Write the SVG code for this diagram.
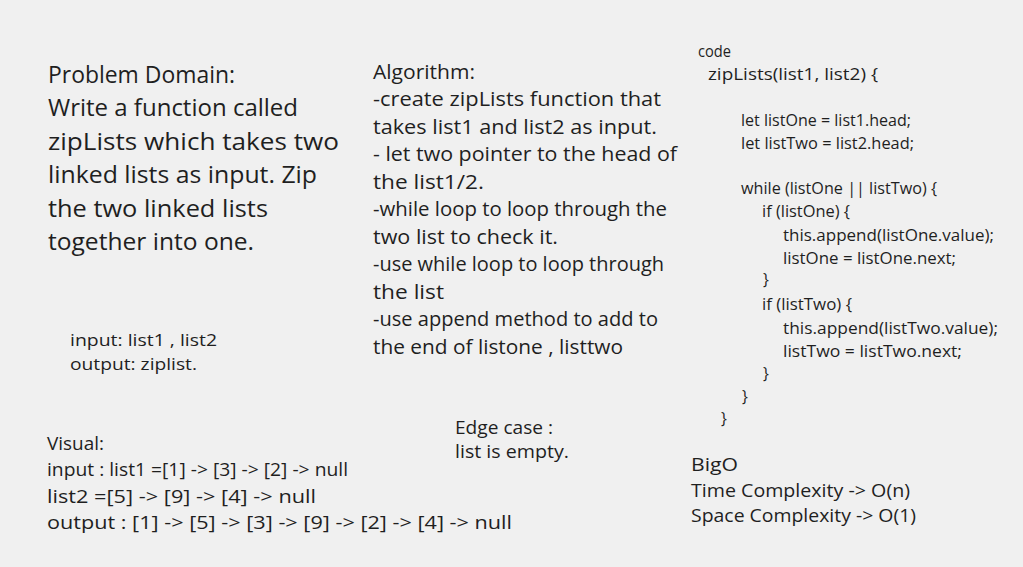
<svg xmlns="http://www.w3.org/2000/svg" width="1023" height="567" viewBox="0 0 1023 567">
<style>
text{font-family:"Open Sans","Liberation Sans",sans-serif;fill:#1f1f1f}
.pd{font-size:23px}
.al{font-size:20px}
.cd{font-size:15.5px}
.io{font-size:17px}
.vs{font-size:18px}
.bo{font-size:18px}
</style>
<rect width="1023" height="567" fill="#f0f0f0"/>
<g id="problem-domain" class="pd">
<text x="48" y="83" textLength="187" lengthAdjust="spacingAndGlyphs">Problem Domain:</text>
<text x="48" y="116" textLength="250" lengthAdjust="spacingAndGlyphs">Write a function called</text>
<text x="48" y="150" textLength="291" lengthAdjust="spacingAndGlyphs">zipLists which takes two</text>
<text x="48" y="183" textLength="269" lengthAdjust="spacingAndGlyphs">linked lists as input. Zip</text>
<text x="48" y="217" textLength="220" lengthAdjust="spacingAndGlyphs">the two linked lists</text>
<text x="48" y="250" textLength="206" lengthAdjust="spacingAndGlyphs">together into one.</text>
</g>
<g id="io" class="io">
<text x="70" y="346" textLength="147" lengthAdjust="spacingAndGlyphs">input: list1 , list2</text>
<text x="70" y="370" textLength="127" lengthAdjust="spacingAndGlyphs">output: ziplist.</text>
</g>
<g id="algorithm" class="al">
<text x="373" y="79" textLength="102" lengthAdjust="spacingAndGlyphs">Algorithm:</text>
<text x="373" y="106" textLength="288" lengthAdjust="spacingAndGlyphs">-create zipLists function that</text>
<text x="373" y="134" textLength="284" lengthAdjust="spacingAndGlyphs">takes list1 and list2 as input.</text>
<text x="373" y="161" textLength="304" lengthAdjust="spacingAndGlyphs">- let two pointer to the head of</text>
<text x="373" y="189" textLength="111" lengthAdjust="spacingAndGlyphs">the list1/2.</text>
<text x="373" y="216" textLength="294" lengthAdjust="spacingAndGlyphs">-while loop to loop through the</text>
<text x="373" y="244" textLength="185" lengthAdjust="spacingAndGlyphs">two list to check it.</text>
<text x="373" y="271" textLength="291" lengthAdjust="spacingAndGlyphs">-use while loop to loop through</text>
<text x="373" y="299" textLength="71" lengthAdjust="spacingAndGlyphs">the list</text>
<text x="373" y="326" textLength="285" lengthAdjust="spacingAndGlyphs">-use append method to add to</text>
<text x="373" y="354" textLength="250" lengthAdjust="spacingAndGlyphs">the end of listone , listtwo</text>
</g>
<g id="code" class="cd">
<text x="698" y="57" textLength="33" lengthAdjust="spacingAndGlyphs">code</text>
<text x="708" y="80" textLength="170" lengthAdjust="spacingAndGlyphs">zipLists(list1, list2) {</text>
<text x="741" y="126" textLength="170" lengthAdjust="spacingAndGlyphs">let listOne = list1.head;</text>
<text x="741" y="149" textLength="173" lengthAdjust="spacingAndGlyphs">let listTwo = list2.head;</text>
<text x="741" y="194" textLength="196" lengthAdjust="spacingAndGlyphs">while (listOne || listTwo) {</text>
<text x="762" y="217" textLength="88" lengthAdjust="spacingAndGlyphs">if (listOne) {</text>
<text x="783" y="241" textLength="211" lengthAdjust="spacingAndGlyphs">this.append(listOne.value);</text>
<text x="783" y="264" textLength="173" lengthAdjust="spacingAndGlyphs">listOne = listOne.next;</text>
<text x="763" y="285">}</text>
<text x="762" y="310" textLength="90" lengthAdjust="spacingAndGlyphs">if (listTwo) {</text>
<text x="783" y="334" textLength="215" lengthAdjust="spacingAndGlyphs">this.append(listTwo.value);</text>
<text x="783" y="357" textLength="179" lengthAdjust="spacingAndGlyphs">listTwo = listTwo.next;</text>
<text x="763" y="379">}</text>
<text x="742" y="402">}</text>
<text x="721" y="424">}</text>
</g>
<g id="visual" class="vs">
<text x="47" y="450" textLength="57" lengthAdjust="spacingAndGlyphs">Visual:</text>
<text x="47" y="476" textLength="301" lengthAdjust="spacingAndGlyphs">input : list1 =[1] -&gt; [3] -&gt; [2] -&gt; null</text>
<text x="47" y="503" textLength="269" lengthAdjust="spacingAndGlyphs">list2 =[5] -&gt; [9] -&gt; [4] -&gt; null</text>
<text x="47" y="529" textLength="465" lengthAdjust="spacingAndGlyphs">output : [1] -&gt; [5] -&gt; [3] -&gt; [9] -&gt; [2] -&gt; [4] -&gt; null</text>
</g>
<g id="edge-case" class="vs">
<text x="455" y="434" textLength="98" lengthAdjust="spacingAndGlyphs">Edge case :</text>
<text x="455" y="458" textLength="114" lengthAdjust="spacingAndGlyphs">list is empty.</text>
</g>
<g id="bigo" class="bo">
<text x="691" y="471" textLength="47" lengthAdjust="spacingAndGlyphs">BigO</text>
<text x="691" y="497" textLength="219" lengthAdjust="spacingAndGlyphs">Time Complexity -&gt; O(n)</text>
<text x="691" y="522" textLength="225" lengthAdjust="spacingAndGlyphs">Space Complexity -&gt; O(1)</text>
</g>
</svg>
